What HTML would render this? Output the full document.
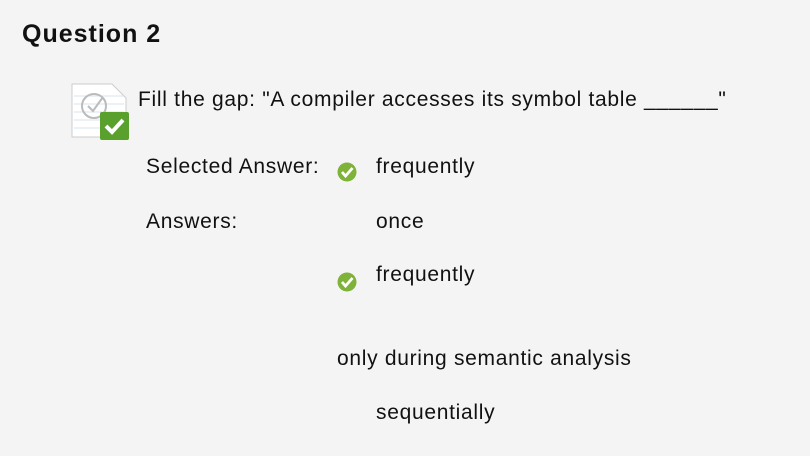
<!DOCTYPE html>
<html><head><style>
body{margin:0;width:810px;height:456px;background:#f4f4f4;font-family:"Liberation Sans",sans-serif;color:#111;position:relative;overflow:hidden}
.t{position:absolute;white-space:nowrap;font-size:21px;line-height:24px;letter-spacing:0.7px}
.ck{position:absolute;width:20px;height:20px}
</style></head><body>
<div class="t" style="left:22px;top:19px;font-size:25px;font-weight:bold;line-height:30px;letter-spacing:1px">Question 2</div>
<svg style="position:absolute;left:70px;top:82px" width="62" height="60">
<path d="M2 2 H42 L56 16 V55 H2 Z" fill="#fff" stroke="#ccc"/>
<g stroke="#d6e4f2"><line x1="4" y1="14" x2="54" y2="14"/><line x1="4" y1="22" x2="54" y2="22"/><line x1="4" y1="30" x2="54" y2="30"/><line x1="4" y1="38" x2="54" y2="38"/><line x1="4" y1="46" x2="54" y2="46"/></g>
<circle cx="24" cy="24" r="12" fill="none" stroke="#bbb" stroke-width="2"/>
<path d="M18 24 l5 5 l10 -14" fill="none" stroke="#bbb" stroke-width="2"/>
<rect x="30" y="30" width="29" height="28" rx="2" fill="#5aa02c"/>
<path d="M36 44 l6 6 l11 -12" fill="none" stroke="#fff" stroke-width="4"/>
</svg>
<div class="t" style="left:138px;top:88px">Fill the gap: "A compiler accesses its symbol table ______"</div>
<div class="t" style="left:146px;top:155px">Selected Answer:</div>
<div class="t" style="left:146px;top:210px">Answers:</div>
<svg class="ck" style="left:337px;top:162px" viewBox="0 0 20 20"><circle cx="10" cy="10" r="9.5" fill="#7fb239"/><path d="M5 10 l3.5 4 l7 -8" fill="none" stroke="#fff" stroke-width="2.8"/></svg>
<div class="t" style="left:376px;top:155px">frequently</div>
<div class="t" style="left:376px;top:210px">once</div>
<svg class="ck" style="left:337px;top:272px" viewBox="0 0 20 20"><circle cx="10" cy="10" r="9.5" fill="#7fb239"/><path d="M5 10 l3.5 4 l7 -8" fill="none" stroke="#fff" stroke-width="2.8"/></svg>
<div class="t" style="left:376px;top:263px">frequently</div>
<div class="t" style="left:337px;top:347px">only during semantic analysis</div>
<div class="t" style="left:376px;top:401px">sequentially</div>
</body></html>
